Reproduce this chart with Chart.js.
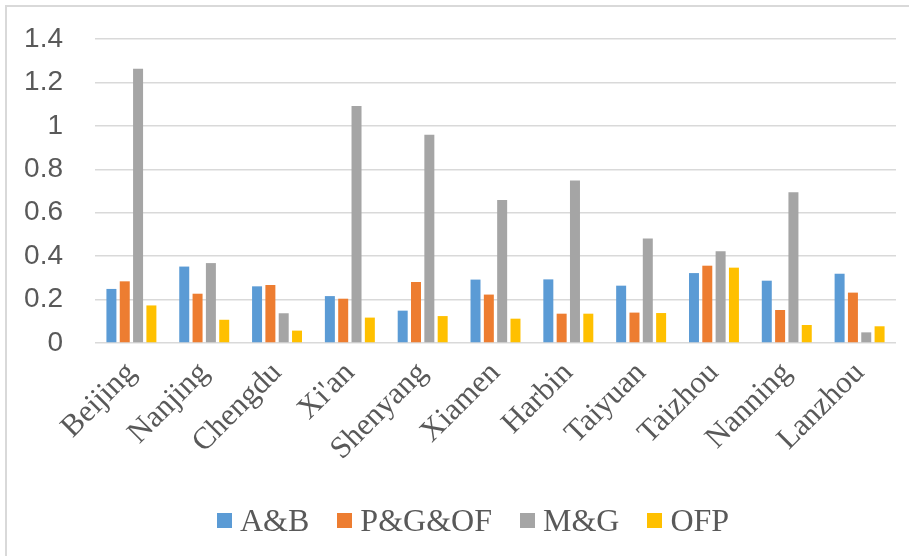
<!DOCTYPE html>
<html>
<head>
<meta charset="utf-8">
<script src="https://cdn.jsdelivr.net/npm/chart.js@4/dist/chart.umd.min.js"></script>
<style>
  html, body { margin: 0; padding: 0; background: #fff; }
  #wrap { position: relative; width: 909px; height: 556px; overflow: hidden; }
  #frame { position: absolute; left: 5px; top: 5px; width: 930px; height: 580px;
           border-top: 2px solid #d9d9d9; border-left: 2px solid #d9d9d9; box-sizing: border-box; }
  canvas { position: absolute; left: 0; top: 0; }
  #legend { position: absolute; left: 217px; top: 500px; height: 40px; display: flex; align-items: center;
            font-family: 'Liberation Serif', 'Times New Roman', serif; font-size: 32px; color: #595959; }
  .item { display: flex; align-items: center; margin-right: 28px; white-space: nowrap; }
  .sw { width: 15px; height: 15px; margin-right: 8px; }
</style>
</head>
<body>
<div id="wrap">
  <div id="frame"></div>
  <canvas id="c" width="909" height="556"></canvas>
  <div id="legend"></div>
</div>
<script>
const cities = ['Beijing', 'Nanjing', 'Chengdu', "Xi'an", 'Shenyang', 'Xiamen', 'Harbin', 'Taiyuan', 'Taizhou', 'Nanning', 'Lanzhou'];
const seriesNames = ['A&B', 'P&G&OF', 'M&G', 'OFP'];
const abValues  = [0.249, 0.352, 0.261, 0.216, 0.149, 0.292, 0.293, 0.264, 0.322, 0.287, 0.319];
const pgofValues = [0.284, 0.227, 0.267, 0.204, 0.281, 0.223, 0.135, 0.140, 0.356, 0.152, 0.232];
const mgValues  = [1.263, 0.368, 0.137, 1.091, 0.959, 0.659, 0.748, 0.481, 0.422, 0.694, 0.049];
const ofpValues = [0.173, 0.107, 0.057, 0.117, 0.124, 0.112, 0.135, 0.138, 0.347, 0.083, 0.077];
const yTicks = [0, 0.2, 0.4, 0.6, 0.8, 1, 1.2, 1.4];
const seriesColors = ['#5B9BD5', '#ED7D31', '#A5A5A5', '#FFC000'];

const seriesValues = [abValues, pgofValues, mgValues, ofpValues];
const datasets = seriesNames.map((name, i) => ({
  label: name,
  data: seriesValues[i],
  backgroundColor: seriesColors[i],
  categoryPercentage: 0.732,
  barPercentage: 0.75
}));

const textColor = '#595959';

new Chart(document.getElementById('c'), {
  type: 'bar',
  data: { labels: cities, datasets },
  options: {
    responsive: false,
    animation: false,
    layout: { padding: { top: 39, right: 13, left: 0, bottom: 0 } },
    plugins: { legend: { display: false }, tooltip: { enabled: false } },
    scales: {
      x: {
        grid: { display: false },
        border: { display: false },
        ticks: {
          minRotation: 45, maxRotation: 45,
          padding: 4,
          color: textColor,
          font: { family: "'Liberation Serif', 'Times New Roman', serif", size: 31 }
        },
        afterFit: (s) => { s.height = 213; }
      },
      y: {
        min: 0, max: 1.4,
        afterBuildTicks: (s) => { s.ticks = yTicks.map(v => ({ value: v })); },
        grid: { color: '#d9d9d9', lineWidth: 1.5, drawTicks: false },
        border: { display: false },
        ticks: {
          padding: 32,
          color: textColor,
          font: { family: "'Liberation Sans', Arial, sans-serif", size: 28 },
          callback: (v) => String(Number(v.toFixed(1)))
        },
        afterFit: (s) => { s.width = 95; s.paddingTop = 0; s.paddingBottom = 0; }
      }
    }
  }
});

// legend built from the same series names and colours
const legend = document.getElementById('legend');
seriesNames.forEach((name, i) => {
  const item = document.createElement('div');
  item.className = 'item';
  const sw = document.createElement('span');
  sw.className = 'sw';
  sw.style.background = seriesColors[i];
  const tx = document.createElement('span');
  tx.textContent = name;
  item.appendChild(sw);
  item.appendChild(tx);
  legend.appendChild(item);
});
</script>
</body>
</html>
